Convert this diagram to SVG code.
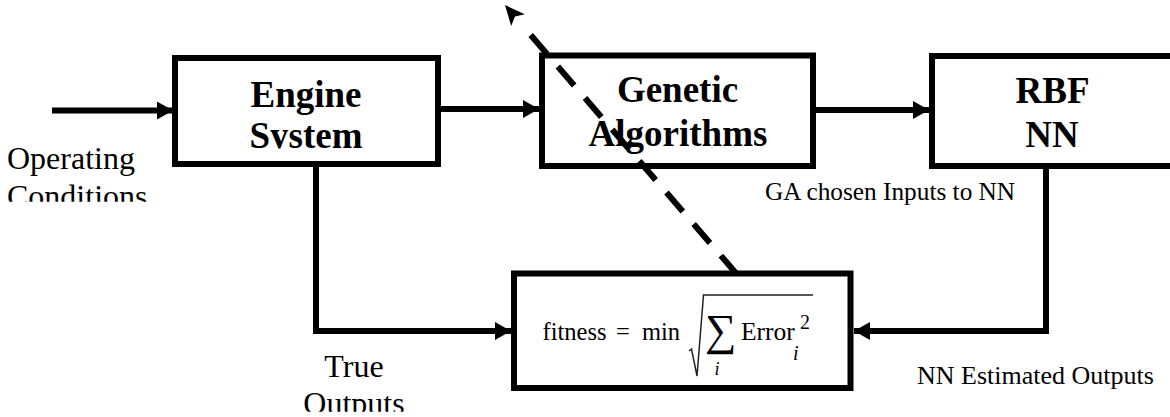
<svg xmlns="http://www.w3.org/2000/svg" width="1170" height="417" viewBox="0 0 1170 417">
<style>
.box{fill:#fff;stroke:#000;stroke-width:6}
.t{font-family:"Liberation Serif","Times New Roman",serif;fill:#000}
.b{font-weight:bold;font-size:37px;text-anchor:middle}
.lbl{font-size:32px}
.sm{font-size:25.3px}
.f{font-size:24.5px}
.it{font-style:italic}
.ln{fill:none;stroke:#000;stroke-width:6}
</style>
<defs>
<marker id="ah" markerWidth="16" markerHeight="18" refX="16" refY="9" orient="auto" markerUnits="userSpaceOnUse">
<path d="M0,0 L16,9 L0,18 Z" fill="#000"/>
</marker>
<clipPath id="cOp"><rect x="0" y="130" width="200" height="71.7"/></clipPath>
<clipPath id="cTrue"><rect x="280" y="340" width="160" height="71.7"/></clipPath>
<clipPath id="cSys"><rect x="178" y="61" width="257" height="87.5"/></clipPath>
</defs>
<g id="engine">
<rect class="box" x="175" y="58" width="263" height="106"/>
<text class="t b" x="306" y="107">Engine</text>
<text class="t b" x="306" y="147.5" clip-path="url(#cSys)">System</text>
</g>
<g id="ga">
<rect class="box" x="542" y="55.5" width="271" height="110.5"/>
<text class="t b" x="677.5" y="102">Genetic</text>
<text class="t b" x="678" y="146">Algorithms</text>
</g>
<g id="rbf">
<rect class="box" x="932" y="56" width="300" height="110"/>
<text class="t b" x="1052.5" y="103">RBF</text>
<text class="t b" x="1052" y="147">NN</text>
</g>
<g id="fitness">
<rect class="box" x="514" y="273.5" width="336.5" height="114.5"/>
<text class="t f" x="542.5" y="340">fitness</text>
<text class="t f" x="616" y="340">=</text>
<text class="t f" x="642" y="340">min</text>
<path d="M689,351 L691.5,349 L697,376 L703.5,295 L813,295" fill="none" stroke="#222" stroke-width="1.5"/>
<text class="t" x="705" y="345" style="font-size:44px">∑</text>
<text class="t it" x="714.5" y="375" style="font-size:18px">i</text>
<text class="t" x="741" y="340" style="font-size:25.5px">Error</text>
<text class="t" x="800" y="329" style="font-size:20px">2</text>
<text class="t it" x="793" y="360" style="font-size:20px">i</text>
</g>
<g id="labels">
<text class="t lbl" x="7" y="168.5" clip-path="url(#cOp)">Operating</text>
<text class="t lbl" x="7" y="207" clip-path="url(#cOp)">Conditions</text>
<text class="t lbl" x="354" y="377" text-anchor="middle" clip-path="url(#cTrue)">True</text>
<text class="t lbl" x="354" y="413.5" text-anchor="middle" clip-path="url(#cTrue)">Outputs</text>
<text class="t sm" x="765" y="200">GA chosen Inputs to NN</text>
<text class="t" x="917" y="384" style="font-size:26px">NN Estimated Outputs</text>
</g>
<g id="connectors">
<line class="ln" x1="52" y1="110.5" x2="173" y2="110.5" marker-end="url(#ah)"/>
<line class="ln" x1="438" y1="109" x2="539" y2="109" marker-end="url(#ah)"/>
<line class="ln" x1="813" y1="110" x2="929" y2="110" marker-end="url(#ah)"/>
<polyline class="ln" points="316,164 316,331 511,331" marker-end="url(#ah)"/>
<polyline class="ln" points="1046,166 1046,331 854,331" marker-end="url(#ah)"/>
<line x1="530.7" y1="35" x2="735.8" y2="273" stroke="#000" stroke-width="6" stroke-dasharray="25 16.6"/>
<path d="M505,5 L524.8,14.3 L515,16.5 L511.2,26.1 Z" fill="#000"/>
</g>
</svg>
